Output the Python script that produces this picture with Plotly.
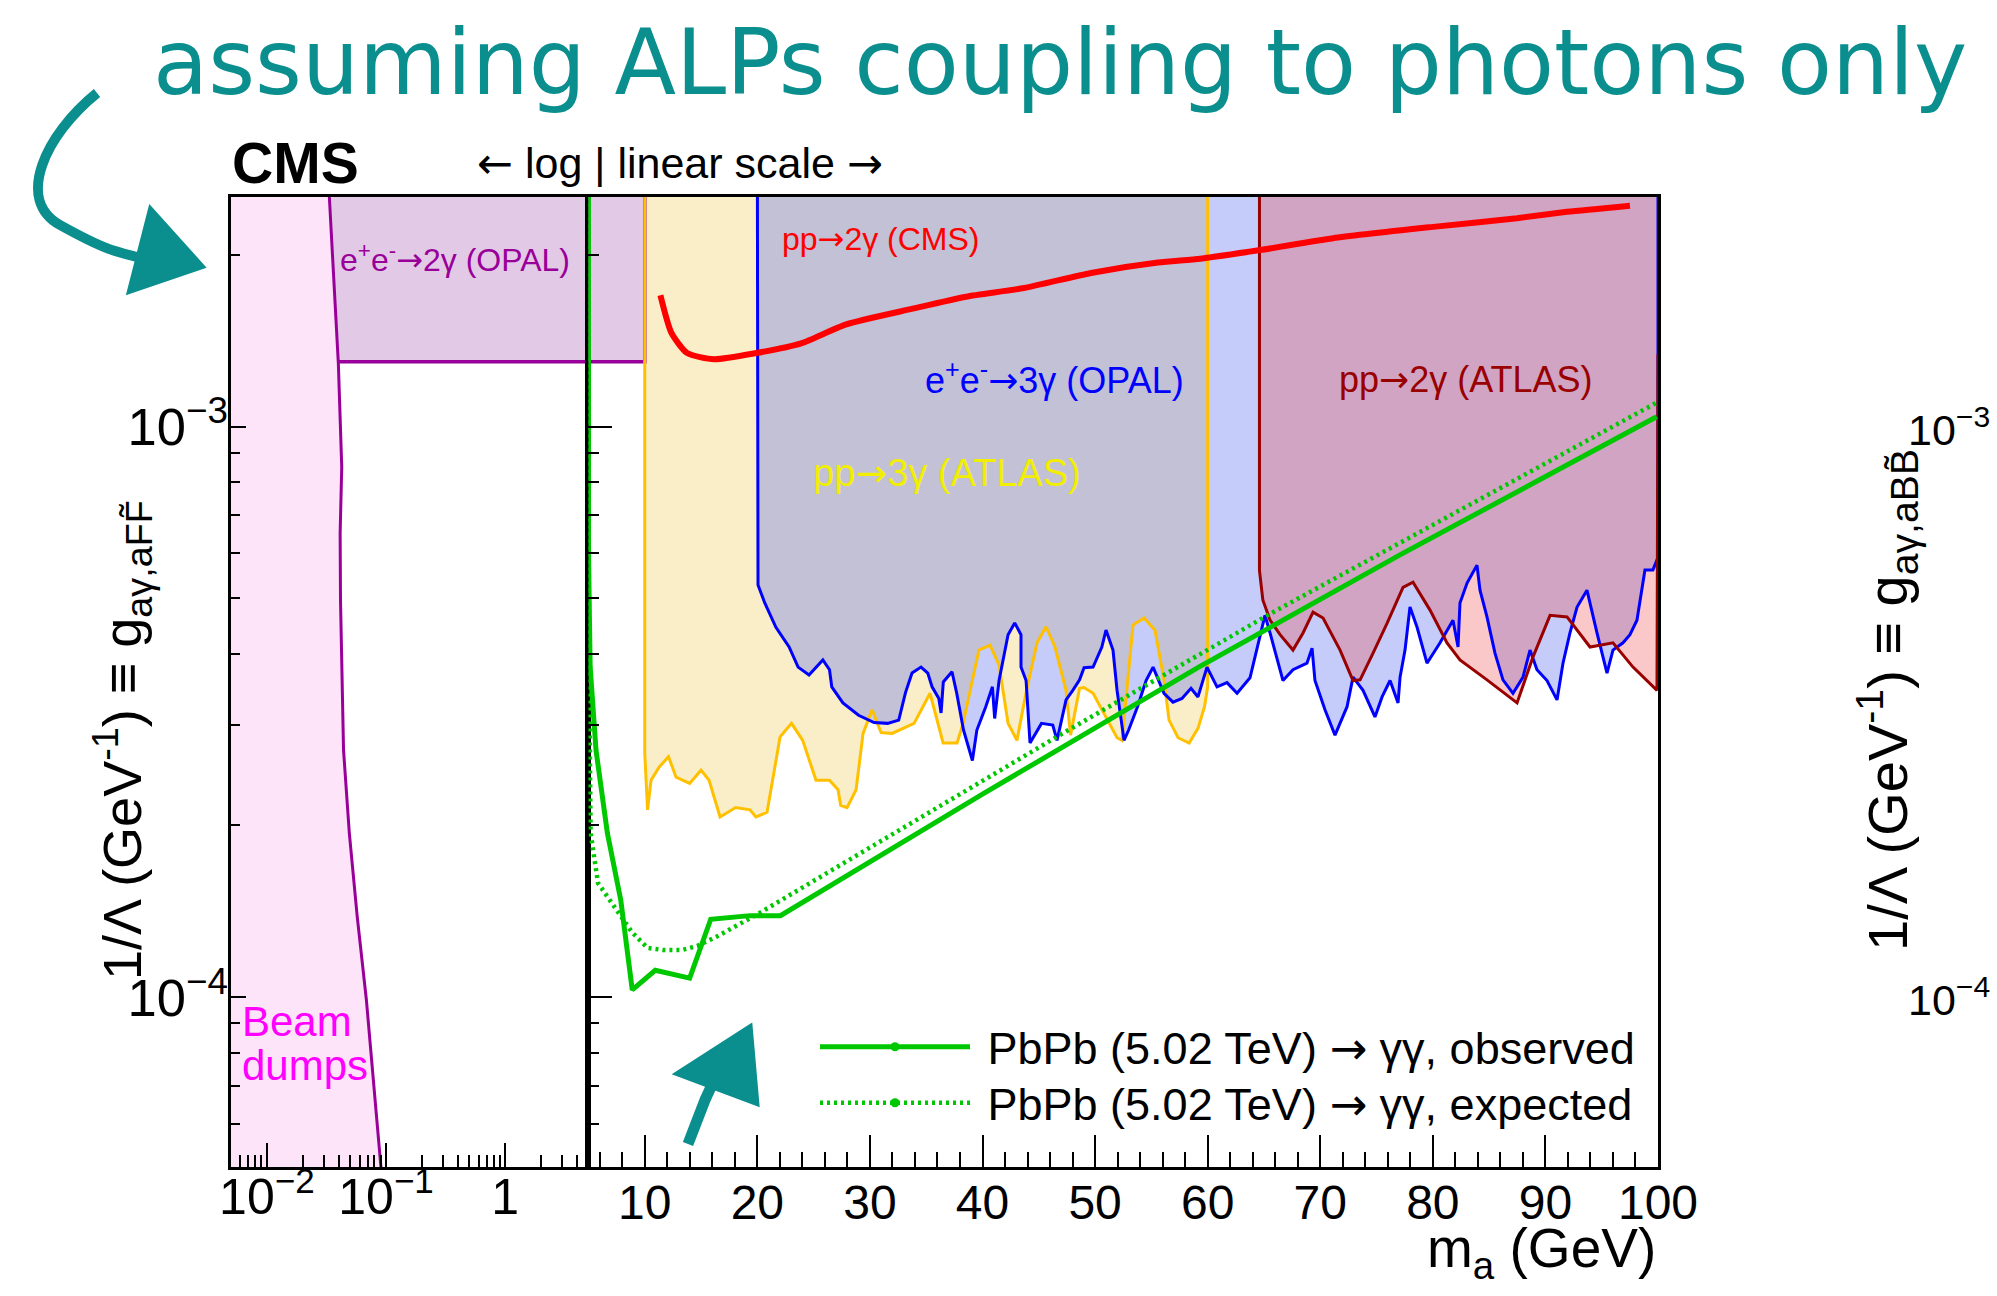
import numpy as np
import plotly.graph_objects as go

# ---------------- data ----------------
# Beam dumps exclusion boundary (log-mass part)
bd_mass = [0.032, 0.0398, 0.0425, 0.0412, 0.0415, 0.044, 0.0492, 0.0574, 0.0684, 0.0896, 0.095]
bd_limit = [3.0e-3, 1.29e-3, 8.5e-4, 6.5e-4, 4.96e-4, 2.71e-4, 1.94e-4, 1.38e-4, 9.9e-5, 5.0e-5, 4.5e-5]

# e+e- -> 2gamma (OPAL): flat limit up to 10 GeV
opal2_limit = 1.3e-3
opal2_mass_max = 10.0

# pp -> 3gamma (ATLAS)
atlas3_mass = [10.0, 10.25, 10.56, 11.27, 12.11, 12.78, 13.99, 15.0, 15.71, 16.69,
               18.07, 19.35, 19.87, 20.86, 22.02, 23.04, 24.03, 25.21, 26.41, 27.17,
               27.40, 27.97, 28.77, 29.39, 30.19, 30.99, 31.97, 33.92, 35.34, 36.50,
               37.74, 38.28, 39.68, 40.67, 41.47, 42.27, 43.06, 43.86, 44.84, 45.64,
               46.44, 47.42, 47.82, 48.62, 49.02, 49.82, 50.97, 51.95, 52.39, 53.37,
               54.35, 55.32, 56.12, 56.57, 57.37, 58.35, 59.14, 59.72, 60.0]
atlas3_limit = [2.68e-4, 2.13e-4, 2.40e-4, 2.53e-4, 2.64e-4, 2.43e-4, 2.37e-4, 2.50e-4, 2.40e-4, 2.07e-4,
                2.15e-4, 2.13e-4, 2.07e-4, 2.11e-4, 2.86e-4, 3.02e-4, 2.82e-4, 2.40e-4, 2.40e-4, 2.31e-4,
                2.17e-4, 2.15e-4, 2.31e-4, 2.90e-4, 3.19e-4, 2.91e-4, 2.90e-4, 3.02e-4, 3.41e-4, 2.79e-4,
                2.79e-4, 3.02e-4, 4.06e-4, 4.14e-4, 3.82e-4, 3.02e-4, 2.82e-4, 3.41e-4, 4.18e-4, 4.46e-4,
                4.11e-4, 3.45e-4, 2.88e-4, 3.48e-4, 3.49e-4, 3.41e-4, 3.10e-4, 2.85e-4, 2.82e-4, 4.49e-4,
                4.62e-4, 4.40e-4, 3.60e-4, 3.06e-4, 2.85e-4, 2.79e-4, 2.96e-4, 3.23e-4, 3.50e-4]

# e+e- -> 3gamma (OPAL)
opal3_mass = [20.0, 20.06, 20.66, 21.65, 22.82, 23.62, 24.59, 25.82, 26.41, 26.61,
              27.60, 28.99, 30.37, 31.57, 32.56, 33.16, 33.74, 34.54, 35.14, 35.52,
              36.12, 36.32, 36.52, 37.29, 37.71, 38.31, 39.10, 39.50, 40.29, 40.88,
              41.08, 41.47, 42.27, 42.86, 43.42, 43.42, 43.87, 44.22, 45.24, 46.24,
              46.62, 47.42, 48.02, 48.62, 49.02, 49.82, 50.60, 50.97, 51.59, 51.95,
              52.57, 52.98, 53.77, 54.53, 55.15, 55.56, 56.12, 56.92, 57.72, 58.52,
              59.14, 59.94, 60.83, 61.72, 62.61, 63.76, 64.65, 65.09, 65.54, 66.69,
              67.58, 68.82, 69.27, 69.53, 70.42, 71.31, 72.38, 72.91, 73.80, 74.86,
              75.49, 76.20, 76.91, 77.09, 77.53, 77.97, 78.60, 79.48, 80.64, 81.79,
              82.24, 82.41, 83.04, 83.92, 84.19, 84.81, 85.52, 86.23, 87.12, 88.01,
              88.63, 89.25, 90.14, 91.03, 91.56, 92.18, 92.81, 93.69, 94.58, 95.47,
              96.00, 96.89, 97.51, 98.13, 98.84, 99.55, 100.0]
opal3_limit = [5.65e-4, 5.28e-4, 4.91e-4, 4.45e-4, 4.11e-4, 3.79e-4, 3.67e-4, 3.90e-4, 3.75e-4, 3.50e-4,
               3.28e-4, 3.12e-4, 3.03e-4, 3.02e-4, 3.06e-4, 3.42e-4, 3.70e-4, 3.79e-4, 3.70e-4, 3.50e-4,
               3.34e-4, 3.15e-4, 3.57e-4, 3.72e-4, 3.41e-4, 2.94e-4, 2.60e-4, 2.94e-4, 3.23e-4, 3.50e-4,
               3.08e-4, 3.59e-4, 4.32e-4, 4.53e-4, 4.32e-4, 3.79e-4, 3.59e-4, 2.79e-4, 3.02e-4, 3.00e-4,
               2.82e-4, 3.32e-4, 3.45e-4, 3.60e-4, 3.78e-4, 3.79e-4, 4.11e-4, 4.40e-4, 4.06e-4, 3.45e-4,
               2.82e-4, 2.94e-4, 3.23e-4, 3.59e-4, 3.79e-4, 3.63e-4, 3.41e-4, 3.29e-4, 3.34e-4, 3.48e-4,
               3.36e-4, 3.79e-4, 3.50e-4, 3.56e-4, 3.41e-4, 3.63e-4, 4.32e-4, 4.67e-4, 4.35e-4, 3.59e-4,
               3.75e-4, 3.85e-4, 4.09e-4, 3.59e-4, 3.19e-4, 2.88e-4, 3.23e-4, 3.64e-4, 3.45e-4, 3.10e-4,
               3.36e-4, 3.59e-4, 3.28e-4, 3.64e-4, 4.06e-4, 4.83e-4, 4.45e-4, 3.85e-4, 4.18e-4, 4.58e-4,
               4.11e-4, 4.91e-4, 5.32e-4, 5.72e-4, 5.17e-4, 4.64e-4, 4.01e-4, 3.60e-4, 3.41e-4, 3.64e-4,
               4.06e-4, 3.75e-4, 3.59e-4, 3.32e-4, 3.85e-4, 4.35e-4, 4.83e-4, 5.17e-4, 4.35e-4, 3.70e-4,
               4.06e-4, 4.18e-4, 4.32e-4, 4.58e-4, 5.61e-4, 5.61e-4, 5.90e-4]

# pp -> 2gamma (ATLAS)
atlas2_mass = [64.6, 64.6, 64.9, 65.54, 66.43, 67.58, 68.47, 69.36, 70.25, 71.76,
               72.91, 73.54, 74.69, 75.93, 77.35, 78.24, 79.75, 81.26, 82.41, 84.81,
               87.48, 88.90, 90.41, 91.92, 93.96, 96.00, 97.78, 99.91, 100.0]
atlas2_limit = [5.9e-4, 5.6e-4, 4.97e-4, 4.58e-4, 4.32e-4, 4.06e-4, 4.35e-4, 4.73e-4, 4.62e-4, 4.06e-4,
                3.59e-4, 3.60e-4, 4.01e-4, 4.52e-4, 5.23e-4, 5.34e-4, 4.77e-4, 4.18e-4, 3.90e-4, 3.60e-4,
                3.28e-4, 3.95e-4, 4.67e-4, 4.64e-4, 4.11e-4, 4.18e-4, 3.79e-4, 3.45e-4, 1.34e-3]

# pp -> 2gamma (CMS)
cms_mass = [11.39, 12.37, 13.76, 16.16, 19.89, 23.89, 27.83, 33.79, 38.54, 43.69,
            49.64, 55.59, 59.34, 64.65, 71.13, 80.02, 87.48, 91.92, 97.51]
cms_limit = [1.70e-3, 1.46e-3, 1.346e-3, 1.313e-3, 1.346e-3, 1.40e-3, 1.51e-3, 1.61e-3, 1.69e-3, 1.75e-3,
             1.86e-3, 1.94e-3, 1.97e-3, 2.04e-3, 2.14e-3, 2.24e-3, 2.32e-3, 2.38e-3, 2.44e-3]

# PbPb (5.02 TeV) -> gamma gamma, observed / expected
obs_mass = [5.0, 5.0, 5.15, 5.67, 6.68, 7.87, 8.89, 10.93, 13.99, 15.86, 19.35, 22.05, 40.0, 59.32, 77.08, 99.88]
obs_limit = [3.0e-3, 6.07e-4, 3.80e-4, 2.71e-4, 1.94e-4, 1.48e-4, 1.03e-4, 1.115e-4, 1.08e-4, 1.37e-4,
             1.39e-4, 1.39e-4, 2.27e-4, 3.80e-4, 5.96e-4, 1.041e-3]
exp_mass = [5.0, 5.0, 5.1, 5.19, 5.85, 7.54, 8.87, 10.25, 11.63, 13.31, 14.65, 16.33, 19.35, 20.06, 46.6, 65.3, 99.88]
exp_limit = [3.0e-3, 6.07e-4, 3.10e-4, 1.94e-4, 1.585e-4, 1.42e-4, 1.30e-4, 1.22e-4, 1.21e-4, 1.21e-4,
             1.23e-4, 1.275e-4, 1.37e-4, 1.40e-4, 2.86e-4, 4.67e-4, 1.102e-3]

# axis ranges and tick labels
log_mass_range = [0.005, 5.0]
lin_mass_range = [5.0, 100.0]
coupling_range = [5.04e-5, 2.527e-3]
side_panel_ticktext = ["10<sup>\u22124</sup>", "10<sup>\u22123</sup>"]

# ---------------- layout geometry ----------------
W, H = 1997, 1296
L, R, T, B = 231, 339, 197, 129
PW = W - L - R
PH = H - T - B
SPLIT = 0.2505
Y_TOP = 3.0e-3
Y_BOT = 4.0e-5
X_LEFT = 0.004

FONT = "Liberation Sans, Arial, Helvetica, sans-serif"
TEAL = "#0a8e8e"
ARROW = '<span style="font-family:DejaVu Sans">\u2192</span>'
LARROW = '<span style="font-family:DejaVu Sans">\u2190</span>'


def pxp(xf, yf):
    return (xf - L) / PW, (H - B - yf) / PH


def P(xf, yf):
    x, y = pxp(xf, yf)
    return f"{x:.5f},{y:.5f}"


PINK_FILL = "#fde4f9"
PURPLE = "#990099"
OPAL2_FILL = "#e2cae6"
YELLOW_FILL = "rgba(238,198,72,0.30)"
YELLOW_LINE = "#ffc000"
BLUE_FILL = "rgba(89,109,241,0.35)"
BLUE_LINE = "#0000ff"
RED_FILL = "rgba(238,72,72,0.30)"
DARKRED = "#990000"
RED = "#ff0000"
GREEN = "#00c800"

fig = go.Figure()


def add(x, y, axes, **kw):
    xa, ya = axes
    fig.add_trace(go.Scatter(x=x, y=y, xaxis=xa, yaxis=ya, showlegend=False,
                             hoverinfo="skip", **kw))


LOG = ("x", "y")
LIN = ("x2", "y2")

# beam dumps
add([X_LEFT] + bd_mass + [X_LEFT], [Y_TOP] + bd_limit + [Y_BOT], LOG,
    mode="lines", fill="toself", fillcolor=PINK_FILL, line=dict(width=0))
# OPAL 2 gamma fill (log part + linear part)
add([bd_mass[0], bd_mass[1], log_mass_range[1], log_mass_range[1]],
    [bd_limit[0], opal2_limit, opal2_limit, Y_TOP], LOG,
    mode="lines", fill="toself", fillcolor=OPAL2_FILL, line=dict(width=0))
add([lin_mass_range[0], lin_mass_range[0], opal2_mass_max, opal2_mass_max],
    [Y_TOP, opal2_limit, opal2_limit, Y_TOP], LIN,
    mode="lines", fill="toself", fillcolor=OPAL2_FILL, line=dict(width=0))
add(bd_mass, bd_limit, LOG, mode="lines", line=dict(color=PURPLE, width=3))
add([bd_mass[1], log_mass_range[1]], [opal2_limit, opal2_limit], LOG,
    mode="lines", line=dict(color=PURPLE, width=3.5))

# ATLAS 3 gamma
add([atlas3_mass[0]] + atlas3_mass + [atlas3_mass[-1]], [Y_TOP] + atlas3_limit + [Y_TOP], LIN,
    mode="lines", fill="toself", fillcolor=YELLOW_FILL, line=dict(width=0))
# OPAL 3 gamma
add([opal3_mass[0]] + opal3_mass + [opal3_mass[-1]], [Y_TOP] + opal3_limit + [Y_TOP], LIN,
    mode="lines", fill="toself", fillcolor=BLUE_FILL, line=dict(width=0))
# ATLAS 2 gamma
add([atlas2_mass[0]] + atlas2_mass + [atlas2_mass[-1]], [Y_TOP] + atlas2_limit + [Y_TOP], LIN,
    mode="lines", fill="toself", fillcolor=RED_FILL, line=dict(width=0))

add([lin_mass_range[0], opal2_mass_max, opal2_mass_max], [opal2_limit, opal2_limit, Y_TOP], LIN,
    mode="lines", line=dict(color=PURPLE, width=3.5))
add([atlas3_mass[0]] + atlas3_mass + [atlas3_mass[-1]], [Y_TOP] + atlas3_limit + [Y_TOP], LIN,
    mode="lines", line=dict(color=YELLOW_LINE, width=3))
add([opal3_mass[0]] + opal3_mass + [opal3_mass[-1]], [Y_TOP] + opal3_limit + [Y_TOP], LIN,
    mode="lines", line=dict(color=BLUE_LINE, width=3))
add([atlas2_mass[0]] + atlas2_mass, [Y_TOP] + atlas2_limit, LIN,
    mode="lines", line=dict(color=DARKRED, width=3))

# CMS pp -> 2 gamma
add(cms_mass, cms_limit, LIN, mode="lines", line=dict(color=RED, width=6, shape="spline", smoothing=0.6))

# PbPb expected / observed
add(exp_mass, exp_limit, LIN, mode="lines", line=dict(color=GREEN, width=4.5, dash="3px,4px"))
add(obs_mass, obs_limit, LIN, mode="lines", line=dict(color=GREEN, width=5))

# legend entries (one legend per row so the rows sit where the reference has them)
fig.add_trace(go.Scatter(x=[None], y=[None], mode="lines+markers", legend="legend",
                         name=" PbPb (5.02 TeV) " + ARROW + " \u03b3\u03b3, observed",
                         line=dict(color=GREEN, width=5), marker=dict(color=GREEN, size=9)))
fig.add_trace(go.Scatter(x=[None], y=[None], mode="lines+markers", legend="legend2",
                         name=" PbPb (5.02 TeV) " + ARROW + " \u03b3\u03b3, expected",
                         line=dict(color=GREEN, width=4.5, dash="3px,4px"),
                         marker=dict(color=GREEN, size=9)))

# ---------------- axes ----------------
minor_common = dict(ticks="inside", tickwidth=1.5, tickcolor="black", showgrid=False)
common_x = dict(showgrid=False, zeroline=False, showline=True, linecolor="black", linewidth=3,
                mirror=True, ticks="inside", tickcolor="black", tickwidth=2, tickangle=0,
                automargin=False)
common_y = dict(type="log", range=[np.log10(coupling_range[0]), np.log10(coupling_range[1])],
                domain=[0, 1], showgrid=False, zeroline=False, showline=True, linecolor="black",
                linewidth=2.5, mirror=True, ticks="inside", tickcolor="black", tickwidth=2,
                dtick=1, exponentformat="power", automargin=False,
                tickfont=dict(family=FONT, size=42, color="black"))

fig.update_layout(
    xaxis=dict(type="log", domain=[0, SPLIT], anchor="y",
               range=[np.log10(log_mass_range[0]), np.log10(log_mass_range[1])],
               dtick=1, exponentformat="power", ticklen=24, ticklabelstandoff=-14,
               tickfont=dict(family=FONT, size=40, color="black"),
               minor=dict(ticklen=12, **minor_common),
               **common_x),
    xaxis2=dict(type="linear", domain=[SPLIT, 1], anchor="y2", range=lin_mass_range,
                tick0=0, dtick=10, ticklen=32, ticklabelstandoff=-9,
                tickfont=dict(family=FONT, size=48, color="black"),
                minor=dict(dtick=2, ticklen=15, **minor_common),
                **common_x),
    yaxis=dict(anchor="x", ticklen=15, ticklabelstandoff=-8,
               minor=dict(ticklen=9, **minor_common),
               **common_y),
    yaxis2=dict(anchor="x2", ticklen=24, showticklabels=False,
                minor=dict(ticklen=11, **minor_common),
                **common_y),
)

# ---------------- annotations ----------------
ann = []


def text_px(xf, yf, text, size, color="black", xanchor="left", yanchor="middle", angle=0, family=FONT):
    x, y = pxp(xf, yf)
    ann.append(dict(x=x, y=y, xref="paper", yref="paper", text=text, showarrow=False,
                    xanchor=xanchor, yanchor=yanchor, textangle=angle,
                    font=dict(family=family, size=size, color=color)))


def text_data(xv, yv, axes, text, size, color):
    xa, ya = axes
    xx = np.log10(xv) if xa == "x" else xv
    ann.append(dict(x=xx, y=np.log10(yv), xref=xa, yref=ya, text=text, showarrow=False,
                    xanchor="left", yanchor="middle",
                    font=dict(family=FONT, size=size, color=color)))


text_data(0.0395, 1.97e-3, LOG, "e<sup>+</sup>e<sup>-</sup>" + ARROW + "2\u03b3 (OPAL)", 32, PURPLE)
text_data(22.0, 2.13e-3, LIN, "pp" + ARROW + "2\u03b3 (CMS)", 32, RED)
text_data(34.7, 1.215e-3, LIN, "e<sup>+</sup>e<sup>-</sup>" + ARROW + "3\u03b3 (OPAL)", 36, BLUE_LINE)
text_data(24.8, 8.31e-4, LIN, "pp" + ARROW + "3\u03b3 (ATLAS)", 38, "#f2ee00")
text_data(71.5, 1.21e-3, LIN, "pp" + ARROW + "2\u03b3 (ATLAS)", 36, DARKRED)
text_data(0.0059, 9.06e-5, LOG, "Beam", 42, "#ff00ff")
text_data(0.0059, 7.6e-5, LOG, "dumps", 42, "#ff00ff")

text_px(230, 163, "<b>CMS</b>", 57)
text_px(475, 163, LARROW + " log | linear scale " + ARROW, 43)
text_px(1658, 1252, "m<sub>a</sub> (GeV)", 55, xanchor="right")
YT_L = "1/\u039b (GeV<sup>-1</sup>) \u2261 g<sub>a\u03b3,aFF\u0303</sub>"
YT_R = "1/\u039b (GeV<sup>-1</sup>) \u2261 g<sub>a\u03b3,aBB\u0303</sub>"
text_px(122, 740, YT_L, 54, xanchor="center", angle=-90)
# partially visible neighbouring panel
text_px(1906, 427, side_panel_ticktext[1], 43)
text_px(1906, 997, side_panel_ticktext[0], 43)
text_px(1887, 700, YT_R, 56, xanchor="center", angle=-90)
# teal hand-written note
text_px(1060, 62, "assuming ALPs coupling to photons only", 90, color=TEAL, xanchor="center",
        family="DejaVu Sans, sans-serif")

shapes = [
    dict(type="path", xref="paper", yref="paper", layer="above",
         path="M" + P(97, 93) + " C" + P(45, 135) + " " + P(15, 200) + " " + P(60, 225)
              + " S" + P(115, 252) + " " + P(150, 260),
         line=dict(color=TEAL, width=10)),
    dict(type="path", xref="paper", yref="paper", layer="above",
         path="M" + P(150, 207) + " L" + P(204, 267) + " L" + P(128, 293) + " Z",
         fillcolor=TEAL, line=dict(color=TEAL, width=3)),
    dict(type="path", xref="paper", yref="paper", layer="above",
         path="M" + P(688, 1144) + " L" + P(705, 1100) + " L" + P(722, 1063),
         line=dict(color=TEAL, width=11)),
    dict(type="path", xref="paper", yref="paper", layer="above",
         path="M" + P(751, 1025) + " L" + P(675, 1074) + " L" + P(758, 1105) + " Z",
         fillcolor=TEAL, line=dict(color=TEAL, width=3)),
]

lx, ly1 = pxp(815, 1047)
_, ly2 = pxp(815, 1103)
legend_common = dict(x=lx, xanchor="left", yanchor="middle", bgcolor="rgba(0,0,0,0)",
                     font=dict(family=FONT, size=45, color="black"), itemwidth=150)
fig.update_layout(
    width=W, height=H,
    margin=dict(l=L, r=R, t=T, b=B, pad=0, autoexpand=False),
    paper_bgcolor="white", plot_bgcolor="white",
    font=dict(family=FONT, color="black"),
    annotations=ann, shapes=shapes,
    legend=dict(y=ly1, **legend_common),
    legend2=dict(y=ly2, **legend_common),
    showlegend=True,
)

fig.write_html("out.html")
